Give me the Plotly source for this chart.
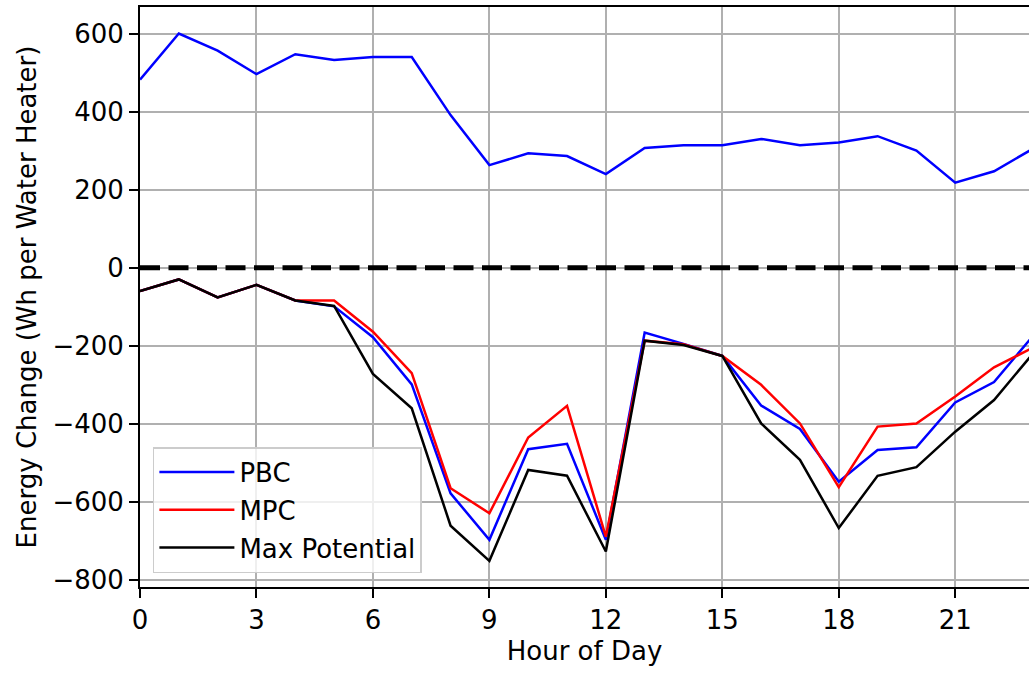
import plotly.graph_objects as go

hours = list(range(24))

pbc_up = [482, 600, 556, 496, 547, 532, 540, 540, 391, 263, 293, 286,
          240, 307, 314, 314, 330, 314, 321, 337, 300, 218, 247, 305]
pbc_down = [-60, -30, -76, -44, -84, -99, -178, -299, -578, -697, -465, -451,
            -697, -166, -195, -226, -353, -413, -548, -467, -460, -345, -293, -175]
mpc_down = [-60, -30, -76, -44, -84, -84, -164, -270, -565, -629, -435, -354,
            -689, -187, -196, -226, -300, -399, -562, -407, -399, -330, -255, -205]
max_down = [-60, -30, -76, -44, -84, -98, -272, -360, -661, -751, -518, -533,
            -727, -187, -198, -226, -399, -492, -667, -533, -511, -420, -339, -220]

zero_level = 0
x_ticks = [0, 3, 6, 9, 12, 15, 18, 21]
y_ticks = [-800, -600, -400, -200, 0, 200, 400, 600]

FONT = "DejaVu Sans"
FS = 26
TITLE_FS = 26

fig = go.Figure()

fig.add_trace(go.Scatter(x=[hours[0], hours[-1]], y=[zero_level, zero_level],
                         mode="lines", showlegend=False,
                         line=dict(color="black", width=5, dash="20px,8.5px")))
fig.add_trace(go.Scatter(x=hours, y=pbc_up, mode="lines", showlegend=False,
                         line=dict(color="#0000ff", width=2.5)))
fig.add_trace(go.Scatter(x=hours, y=pbc_down, mode="lines", name="PBC",
                         legendgroup="a",
                         line=dict(color="#0000ff", width=2.5)))
fig.add_trace(go.Scatter(x=hours, y=mpc_down, mode="lines", name="MPC",
                         legendgroup="b",
                         line=dict(color="#ff0000", width=2.5)))
fig.add_trace(go.Scatter(x=hours, y=max_down, mode="lines", name="Max Potential",
                         legendgroup="c",
                         line=dict(color="black", width=2.5)))

fig.update_layout(
    width=1029, height=673,
    margin=dict(l=140, r=0, t=7, b=86, autoexpand=False),
    paper_bgcolor="white", plot_bgcolor="white",
    font=dict(family=FONT, size=FS, color="black"),
    legend=dict(x=0.0145, y=0.024, xanchor="left", yanchor="bottom",
                bgcolor="rgba(255,255,255,0.8)", bordercolor="#cccccc",
                borderwidth=1.5, font=dict(size=26), tracegroupgap=1,
                itemwidth=75),
    xaxis=dict(range=[0, 22.9], tickvals=x_ticks, showgrid=True,
               gridcolor="#b0b0b0", gridwidth=2, showline=True,
               linecolor="black", linewidth=2, mirror=True,
               ticks="outside", ticklen=9, tickwidth=2, tickcolor="black",
               zeroline=False,
               title=dict(text="Hour of Day", standoff=8,
                          font=dict(size=TITLE_FS))),
    yaxis=dict(range=[-818, 668], tickvals=y_ticks, showgrid=True,
               gridcolor="#b0b0b0", gridwidth=2, showline=True,
               linecolor="black", linewidth=2, mirror=False,
               ticks="outside", ticklen=9, tickwidth=2, tickcolor="black",
               zeroline=False,
               title=dict(text="Energy Change (Wh per Water Heater)", standoff=8,
                          font=dict(size=TITLE_FS))),
)

fig.write_html("out.html")
